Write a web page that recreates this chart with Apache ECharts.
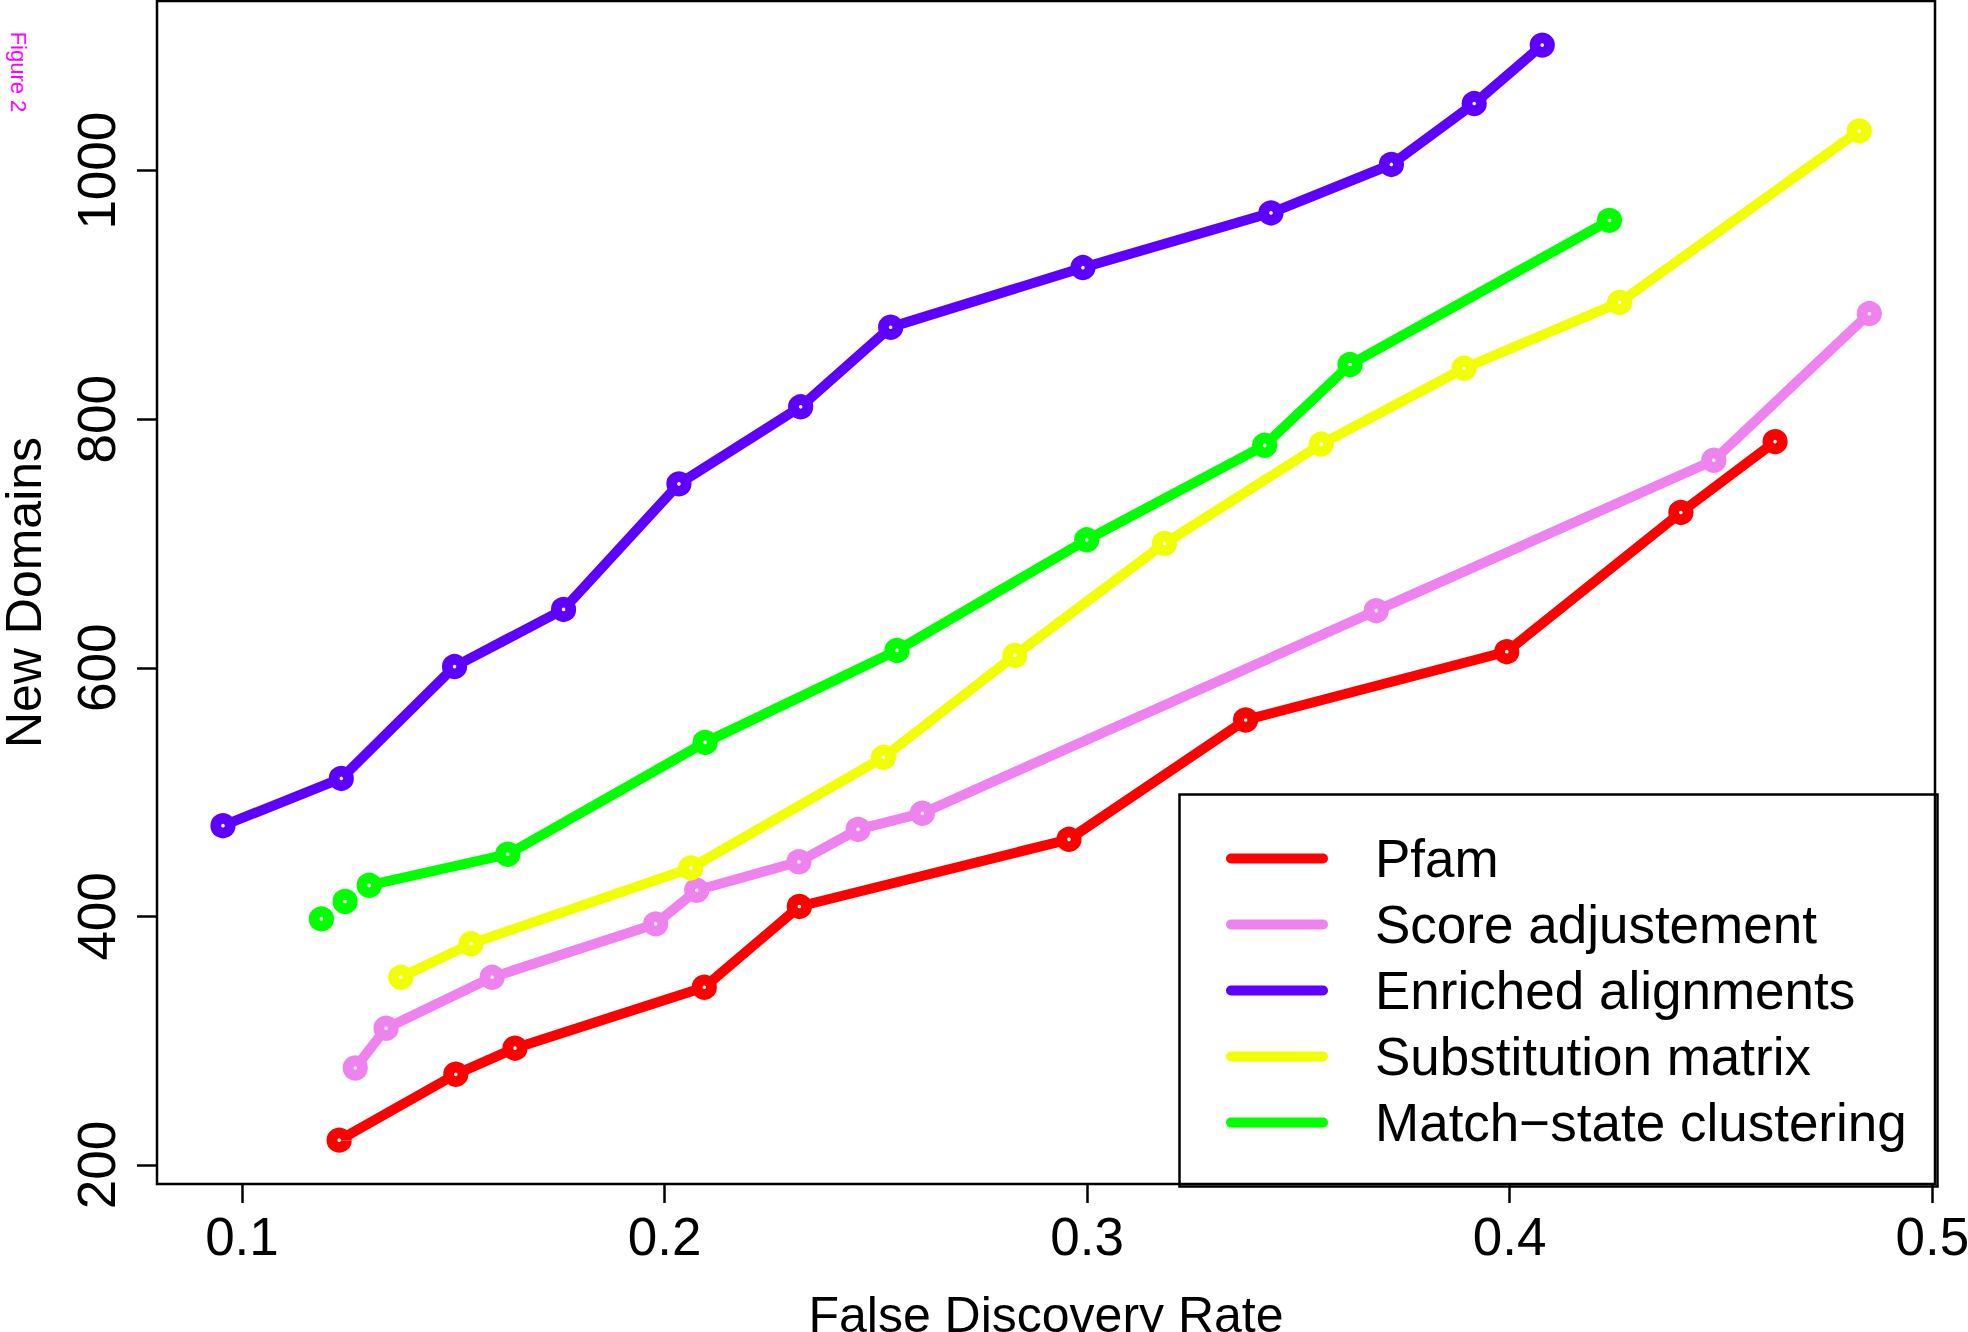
<!DOCTYPE html>
<html><head><meta charset="utf-8">
<script src="https://cdn.jsdelivr.net/npm/echarts@6/dist/echarts.min.js"></script>
<style>html,body{margin:0;padding:0;background:#fff}#c{width:1968px;height:1332px}</style>
</head><body><div id="c"></div>
<script>
const seriesNames = ['Pfam', 'Score adjustement', 'Enriched alignments', 'Substitution matrix', 'Match\u2212state clustering'];
const seriesColors = ['#FF0000', '#EE82EE', '#5E00FF', '#F2FF00', '#00FF00'];

const pfamX = [0.1230, 0.1506, 0.1646, 0.2094, 0.2319, 0.2957, 0.3375, 0.3993, 0.4405, 0.4628];
const pfamY = [220, 273, 294, 343, 408, 462, 558, 613, 725, 782];

const scoreX = [0.1268, 0.1341, 0.1592, 0.1979, 0.2076, 0.2318, 0.2458, 0.2610, 0.3684, 0.4483, 0.4851];
const scoreY = [278, 310, 351, 394, 421, 444, 470, 483, 646, 767, 885];

const enrichedX = [0.0955, 0.1235, 0.1503, 0.1761, 0.2034, 0.2322, 0.2535, 0.2990, 0.3435, 0.3720, 0.3916, 0.4077];
const enrichedY = [473, 511, 601, 647, 748, 810, 874, 922, 966, 1005, 1054, 1101];

const substX = [0.1376, 0.1542, 0.2062, 0.2518, 0.2829, 0.3183, 0.3554, 0.3892, 0.4260, 0.4827];
const substY = [351, 378, 439, 528, 610, 700, 780, 841, 894, 1032];

const matchX = [0.1188, 0.1244, 0.1301, 0.1629, 0.2096, 0.2550, 0.2999, 0.3420, 0.3622, 0.4236];
const matchY = [398, 412, 425, 450, 540, 614, 703, 779, 844, 960];

const xTicks = [0.1, 0.2, 0.3, 0.4, 0.5];
const yTicks = [200, 400, 600, 800, 1000];

const allX = [pfamX, scoreX, enrichedX, substX, matchX];
const allY = [pfamY, scoreY, enrichedY, substY, matchY];

const FONT = '"Liberation Sans", Arial, Helvetica, sans-serif';
const LW = 10, GAP = 12.2;
const RING_R = 7.2, RING_W = 10.8;

function segs(xs, ys) {
  const out = [];
  for (let i = 0; i < xs.length - 1; i++) out.push([xs[i], ys[i], xs[i + 1], ys[i + 1]]);
  return out;
}
function pts(xs, ys) { return xs.map((x, i) => [x, ys[i]]); }
function gapRender(color) {
  return function (params, api) {
    const p1 = api.coord([api.value(0), api.value(1)]);
    const p2 = api.coord([api.value(2), api.value(3)]);
    const dx = p2[0] - p1[0], dy = p2[1] - p1[1], L = Math.hypot(dx, dy);
    if (L < 3 * GAP) return null;
    const ux = dx / L, uy = dy / L;
    return {
      type: 'line',
      shape: { x1: p1[0] + ux * GAP, y1: p1[1] + uy * GAP, x2: p2[0] - ux * GAP, y2: p2[1] - uy * GAP },
      style: { stroke: color, lineWidth: LW, lineCap: 'round' }
    };
  };
}
function ringRender(color) {
  return function (params, api) {
    const p = api.coord([api.value(0), api.value(1)]);
    return {
      type: 'circle',
      shape: { cx: p[0], cy: p[1], r: RING_R },
      style: { fill: 'none', stroke: color, lineWidth: RING_W }
    };
  };
}

const series = [];
seriesNames.forEach((name, k) => {
  series.push({
    type: 'custom', name: name, data: segs(allX[k], allY[k]),
    encode: { x: [0, 2], y: [1, 3] },
    renderItem: gapRender(seriesColors[k]),
    itemStyle: { color: seriesColors[k] },
    silent: true, z: 2
  });
});
seriesNames.forEach((name, k) => {
  series.push({
    type: 'custom', name: name, data: pts(allX[k], allY[k]),
    encode: { x: 0, y: 1 },
    renderItem: ringRender(seriesColors[k]),
    itemStyle: { color: seriesColors[k] },
    silent: true, z: 3
  });
});

const chart = echarts.init(document.getElementById('c'), null, { renderer: 'svg', width: 1968, height: 1332 });
chart.setOption({
  animation: false,
  backgroundColor: '#fff',
  grid: { left: 157, right: 33, top: 1, bottom: 148, show: true, borderColor: '#000', borderWidth: 2.5,
          backgroundColor: 'transparent', outerBoundsMode: 'none', containLabel: false },
  xAxis: {
    type: 'value', min: 0.07989, max: 0.50064,
    splitLine: { show: false },
    axisLine: { show: false, onZero: false },
    axisTick: { show: true, length: 19, inside: false, lineStyle: { color: '#000', width: 2.5 }, customValues: xTicks },
    axisLabel: { customValues: xTicks, formatter: v => v.toFixed(1), fontSize: 53, fontFamily: FONT, color: '#000', margin: 26 },
    name: 'False Discovery Rate', nameLocation: 'middle', nameGap: 106,
    nameTextStyle: { fontSize: 50, lineHeight: 50, fontFamily: FONT, color: '#000' }
  },
  yAxis: {
    type: 'value', min: 184.7, max: 1136.5,
    splitLine: { show: false },
    axisLine: { show: false, onZero: false },
    axisTick: { show: true, length: 20, inside: false, lineStyle: { color: '#000', width: 2.5 }, customValues: yTicks },
    axisLabel: { customValues: yTicks, formatter: v => String(v), rotate: 90, fontSize: 53, fontFamily: FONT, color: '#000', margin: 34 },
    name: 'New Domains', nameLocation: 'middle', nameRotate: 90, nameGap: 108,
    nameTextStyle: { fontSize: 50, lineHeight: 50, fontFamily: FONT, color: '#000' }
  },
  legend: {
    orient: 'vertical', left: 1226, top: 832, padding: 0,
    itemWidth: 102, itemHeight: 10, itemGap: 13,
    icon: 'path://M5,0H97A5,5,0,0,1,97,10H5A5,5,0,0,1,5,0Z',
    selectedMode: false,
    textStyle: { fontSize: 53, lineHeight: 52, fontFamily: FONT, color: '#000', padding: [0, 0, 0, 42] },
    data: seriesNames
  },
  graphic: [
    { type: 'rect', left: 1177, top: 792, z: 1, silent: true,
      shape: { width: 758, height: 392 }, style: { fill: 'none', stroke: '#000', lineWidth: 2.5 } },
    { type: 'text', x: 18, y: 72, rotation: -Math.PI / 2, silent: true,
      style: { text: 'Figure 2', fill: '#FF00FF', font: '22px ' + FONT, align: 'center', verticalAlign: 'middle' } }
  ],
  series: series
});
</script>
</body></html>
